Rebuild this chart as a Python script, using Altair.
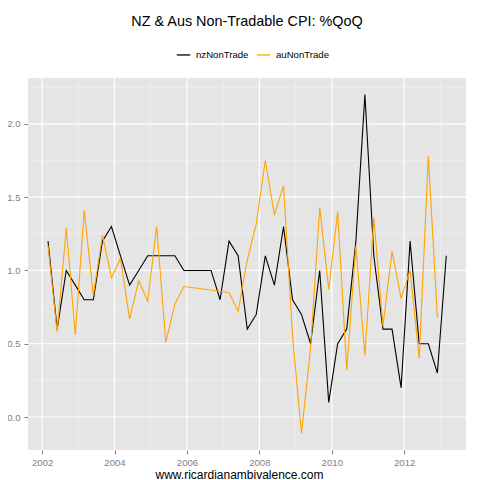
import altair as alt
import pandas as pd

# Quarterly observation dates (first day of the quarter's last month)
dates = pd.date_range("2002-03-01", periods=45, freq="3MS").strftime("%Y-%m-%d").tolist()

series_names = ["nzNonTrade", "auNonTrade"]
series_colors = ["#000000", "#FFA500"]

nz_vals = [1.2, 0.6, 1.0, 0.9, 0.8, 0.8, 1.2, 1.3, 1.1, 0.9, 1.0, 1.1,
           1.1, 1.1, 1.1, 1.0, 1.0, 1.0, 1.0, 0.8, 1.2, 1.1, 0.6,
           0.7, 1.1, 0.9, 1.3, 0.8, 0.7, 0.5, 1.0, 0.1, 0.5, 0.6, 1.2,
           2.2, 1.1, 0.6, 0.6, 0.2, 1.2, 0.5, 0.5, 0.3, 1.1]
au_vals = [1.17, 0.58, 1.29, 0.56, 1.41, 0.83, 1.24, 0.95, 1.08, 0.67, 0.93, 0.79,
           1.30, 0.51, 0.77, 0.89, None, None, None, None, 0.85, 0.72, 1.07, 1.32,
           1.75, 1.38, 1.58, 0.55, -0.11, 0.47, 1.43, 0.87, 1.40, 0.32, 1.17, 0.42,
           1.36, 0.62, 1.13, 0.81, 1.00, 0.40, 1.78, 0.68, None]

major_x = ["2002-01-01", "2004-01-01", "2006-01-01", "2008-01-01", "2010-01-01", "2012-01-01"]
minor_x = ["2003-01-01", "2005-01-01", "2007-01-01", "2009-01-01", "2011-01-01", "2013-01-01"]
major_y = [0.0, 0.5, 1.0, 1.5, 2.0]
minor_y = [0.25, 0.75, 1.25, 1.75, 2.25]

rows = []
for name, vals in zip(series_names, [nz_vals, au_vals]):
    for d, v in zip(dates, vals):
        if v is not None:
            rows.append({"date": d, "series": name, "value": v})
df = pd.DataFrame(rows)

x_scale = alt.Scale(type="utc", domain=[alt.DateTime(year=2001, month=8, date=11, utc=True),
                                        alt.DateTime(year=2013, month=9, date=16, utc=True)])
y_scale = alt.Scale(domain=[-0.225, 2.313], nice=False, zero=False)

x_ticks = [alt.DateTime(year=int(s[:4]), month=1, date=1, utc=True) for s in major_x]

x_axis = alt.Axis(values=x_ticks, format="%Y", grid=False, domain=False,
                  tickColor="#7F7F7F", tickSize=4, tickWidth=1,
                  labelColor="#7F7F7F", labelFontSize=9.6, labelFont="Liberation Sans",
                  labelPadding=3, labelFlush=False,
                  title="www.ricardianambivalence.com", titleFontSize=12,
                  titleFont="Liberation Sans", titleColor="#000000",
                  titleFontWeight="normal", titleX=211, titleY=28,
                  titleBaseline="alphabetic", titleAlign="center")
y_axis = alt.Axis(values=major_y, format=".1f", grid=False, domain=False,
                  tickColor="#7F7F7F", tickSize=4, tickWidth=1,
                  labelColor="#7F7F7F", labelFontSize=9.6, labelFont="Liberation Sans",
                  labelPadding=4, title=None)

minor_v = alt.Chart(pd.DataFrame({"date": minor_x})).mark_rule(color="#F2F2F2", strokeWidth=0.6).encode(
    x=alt.X("date:T", scale=x_scale, axis=x_axis))
minor_h = alt.Chart(pd.DataFrame({"value": minor_y})).mark_rule(color="#F2F2F2", strokeWidth=0.6).encode(
    y=alt.Y("value:Q", scale=y_scale, axis=y_axis))
major_v = alt.Chart(pd.DataFrame({"date": major_x})).mark_rule(color="#FFFFFF", strokeWidth=1.2).encode(
    x=alt.X("date:T", scale=x_scale, axis=x_axis))
major_h = alt.Chart(pd.DataFrame({"value": major_y})).mark_rule(color="#FFFFFF", strokeWidth=1.2).encode(
    y=alt.Y("value:Q", scale=y_scale, axis=y_axis))

lines = alt.Chart(df).mark_line(strokeWidth=1.1).encode(
    x=alt.X("date:T", scale=x_scale, axis=x_axis),
    y=alt.Y("value:Q", scale=y_scale, axis=y_axis),
    color=alt.Color("series:N", scale=alt.Scale(domain=series_names, range=series_colors),
                    legend=alt.Legend(orient="none", legendX=148, legendY=-31, direction="horizontal",
                                      title=None, symbolType="stroke", symbolSize=180,
                                      symbolStrokeWidth=1.3, labelFontSize=9.6,
                                      labelFont="Liberation Sans", labelColor="#000000",
                                      labelOffset=5, columnPadding=5)),
    detail="series:N",
)

chart = alt.layer(minor_v, minor_h, major_v, major_h, lines).properties(
    width=438, height=372,
    autosize=alt.AutoSizeParams(type="none"),
    padding={"left": 20, "top": 70, "right": 6, "bottom": 30},
    title=alt.TitleParams("NZ & Aus Non-Tradable CPI: %QoQ", fontSize=14.4, fontWeight="normal",
                          font="Liberation Sans", color="#000000", anchor="middle",
                          baseline="alphabetic", offset=7),
).configure_view(fill="#E5E5E5", stroke=None)

chart.save("out.html", embed_options={"renderer": "svg", "actions": False})
